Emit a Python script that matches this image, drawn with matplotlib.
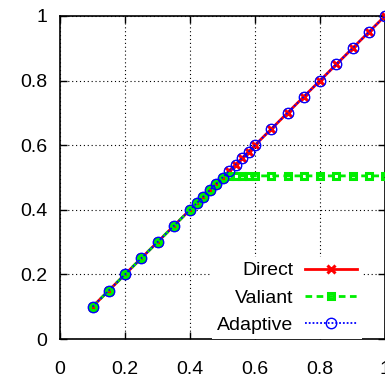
import matplotlib
matplotlib.use("Agg")
import matplotlib.pyplot as plt

plt.rcParams["font.family"] = ["Liberation Sans", "DejaVu Sans"]

# ratio values
x_vals = [0.10, 0.15, 0.20, 0.25, 0.30, 0.35, 0.40, 0.42, 0.44, 0.46, 0.48, 0.50,
          0.52, 0.54, 0.56, 0.58, 0.60, 0.65, 0.70, 0.75, 0.80, 0.85, 0.90, 0.95, 1.00]
direct = [0.10, 0.15, 0.20, 0.25, 0.30, 0.35, 0.40, 0.42, 0.44, 0.46, 0.48, 0.50,
          0.52, 0.54, 0.56, 0.58, 0.60, 0.65, 0.70, 0.75, 0.80, 0.85, 0.90, 0.95, 1.00]
valiant = [0.10, 0.15, 0.20, 0.25, 0.30, 0.35, 0.40, 0.42, 0.44, 0.46, 0.48, 0.50,
           0.505, 0.505, 0.505, 0.505, 0.505, 0.505, 0.505, 0.505, 0.505, 0.505, 0.505, 0.505, 0.505]
adaptive = [0.10, 0.15, 0.20, 0.25, 0.30, 0.35, 0.40, 0.42, 0.44, 0.46, 0.48, 0.50,
            0.52, 0.54, 0.56, 0.58, 0.60, 0.65, 0.70, 0.75, 0.80, 0.85, 0.90, 0.95, 1.00]

ticks = [0, 0.2, 0.4, 0.6, 0.8, 1]
tick_labels = ["0", "0.2", "0.4", "0.6", "0.8", "1"]

fig = plt.figure(figsize=(3.85, 3.74), dpi=100)
ax = fig.add_axes([60 / 385, 1 - 339 / 374, 325 / 385, 323 / 374])

ax.plot(x_vals, direct, color="#ff0000", linewidth=2, marker="x", markersize=5.5,
        markeredgewidth=2.2, label="Direct", clip_on=False, zorder=3)
ax.plot(x_vals, valiant, color="#00ee00", linewidth=2, linestyle=(0, (2.4, 1.6)),
        marker="s", markersize=5, markerfacecolor="none", markeredgewidth=2.2,
        label="Valiant", clip_on=False, zorder=4)
ax.plot(x_vals, adaptive, color="#0000ff", linewidth=1.3, linestyle=(0, (1, 1.1)),
        marker="o", markersize=7.5, markerfacecolor="none", markeredgewidth=1,
        label="Adaptive", clip_on=False, zorder=5)

ax.set_xlim(0, 1)
ax.set_ylim(0, 1)
ax.set_xticks(ticks)
ax.set_xticklabels(tick_labels)
ax.set_yticks(ticks)
ax.set_yticklabels(tick_labels)
ax.tick_params(direction="in", top=True, right=True, length=5, width=1,
               labelsize=14, colors="black")
ax.tick_params(axis="x", pad=16)
ax.tick_params(axis="y", pad=9)
ax.grid(True, color="black", linestyle=(0, (1, 2.5)), linewidth=0.8)
for s in ax.spines.values():
    s.set_linewidth(1.2)

leg = ax.legend(loc="lower right", bbox_to_anchor=(0.93, 0.0), markerfirst=False,
                numpoints=1, fontsize=14, handlelength=2.7, handletextpad=0.6,
                labelspacing=0.5, borderpad=0.25, borderaxespad=0.0, frameon=True,
                fancybox=False, framealpha=1, edgecolor="none", facecolor="white")
leg.set_zorder(6)

fig.savefig("out.png", dpi=100)
